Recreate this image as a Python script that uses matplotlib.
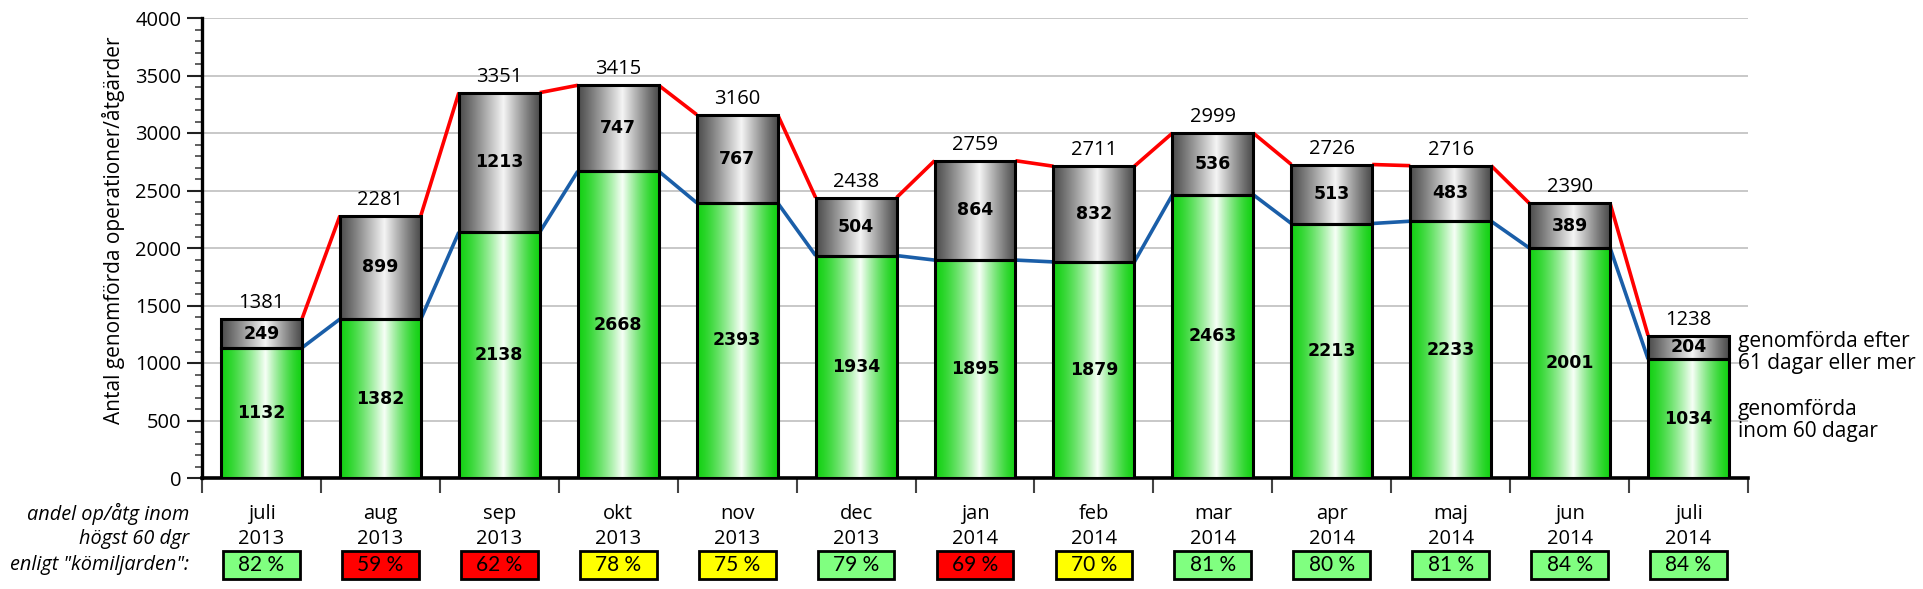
import numpy as np
import matplotlib
matplotlib.use("Agg")
import matplotlib.pyplot as plt
from matplotlib.patches import Rectangle
from matplotlib.transforms import blended_transform_factory
from matplotlib.ticker import MultipleLocator, FixedLocator, NullFormatter

months = ["juli", "aug", "sep", "okt", "nov", "dec", "jan", "feb", "mar", "apr", "maj", "jun", "juli"]
years = ["2013", "2013", "2013", "2013", "2013", "2013", "2014", "2014", "2014", "2014", "2014", "2014", "2014"]
within60 = [1132, 1382, 2138, 2668, 2393, 1934, 1895, 1879, 2463, 2213, 2233, 2001, 1034]
after61 = [249, 899, 1213, 747, 767, 504, 864, 832, 536, 513, 483, 389, 204]
totals = [1381, 2281, 3351, 3415, 3160, 2438, 2759, 2711, 2999, 2726, 2716, 2390, 1238]
share_pct = [82, 59, 62, 78, 75, 79, 69, 70, 81, 80, 81, 84, 84]
share_status = ["ok", "bad", "bad", "mid", "mid", "ok", "bad", "mid", "ok", "ok", "ok", "ok", "ok"]

status_colors = {"ok": "#80ff80", "bad": "#ff0000", "mid": "#ffff00"}
FONT = "Open Sans"
plt.rcParams["font.family"] = [FONT, "DejaVu Sans"]

W, H = 1923, 589
fig = plt.figure(figsize=(W / 100, H / 100), dpi=100)
ax_l, ax_r, ax_b, ax_t = 202, 1748, 478, 18
ax = fig.add_axes([ax_l / W, 1 - ax_b / H, (ax_r - ax_l) / W, (ax_b - ax_t) / H])

x = np.arange(len(months))
bw = 0.68


def gradient(edge, center, peak=0.55, n=256, power=1.1):
    t = np.linspace(0, 1, n)
    w = np.where(t < peak, t / peak, (1 - t) / (1 - peak))
    w = w ** power
    edge = np.array(edge)
    center = np.array(center)
    rgb = edge[None, :] + (center - edge)[None, :] * w[:, None]
    return rgb[None, :, :]


green_grad = gradient((0.08, 0.82, 0.08), (0.97, 1.0, 0.97), power=1.4)
gray_grad = gradient((0.30, 0.30, 0.30), (0.96, 0.96, 0.96))

b1 = ax.bar(x, within60, width=bw, facecolor="none", edgecolor="black", linewidth=2.2, zorder=4)
b2 = ax.bar(x, after61, bottom=within60, width=bw, facecolor="none", edgecolor="black", linewidth=2.2, zorder=4)

for bars, grad in ((b1, green_grad), (b2, gray_grad)):
    for p in bars:
        x0, y0 = p.get_x(), p.get_y()
        ax.imshow(grad, extent=[x0, x0 + p.get_width(), y0, y0 + p.get_height()],
                  aspect="auto", zorder=3, interpolation="bilinear")

# series lines
for i in range(len(x) - 1):
    ax.plot([x[i] + bw / 2, x[i + 1] - bw / 2], [totals[i], totals[i + 1]],
            color="#ff0000", lw=2.6, zorder=2, solid_capstyle="butt")
    ax.plot([x[i] + bw / 2, x[i + 1] - bw / 2], [within60[i], within60[i + 1]],
            color="#1a5ea8", lw=2.6, zorder=2, solid_capstyle="butt")

# value labels
for i in range(len(x)):
    ax.text(x[i], within60[i] / 2, str(within60[i]), ha="center", va="center",
            fontsize=12.5, fontweight="bold", family="DejaVu Sans", zorder=6)
    ax.text(x[i], within60[i] + after61[i] / 2, str(after61[i]), ha="center", va="center",
            fontsize=12.5, fontweight="bold", family="DejaVu Sans", zorder=6)
    ax.annotate(str(totals[i]), (x[i], totals[i]), xytext=(0, 11.5), textcoords="offset points",
                ha="center", va="center", fontsize=14.5, zorder=6)

ax.set_xlim(-0.5, len(x) - 0.5)
ax.set_ylim(0, 4000)
ax.yaxis.set_major_locator(MultipleLocator(500))
ax.yaxis.set_minor_locator(MultipleLocator(100))
ax.grid(axis="y", which="major", color="#c4c4c4", lw=1.3, zorder=0)
ax.set_axisbelow(True)
ax.tick_params(axis="y", which="major", length=11, width=1.5, labelsize=14.5, color="#222222", pad=4)
ax.tick_params(axis="y", which="minor", length=5, width=1.2, color="#444444")
ax.xaxis.set_major_locator(FixedLocator(np.arange(-0.5, len(x), 1.0)))
ax.xaxis.set_major_formatter(NullFormatter())
ax.tick_params(axis="x", which="major", length=11, width=1.5, color="#444444")
for s in ("top", "right"):
    ax.spines[s].set_visible(False)
ax.spines["left"].set_linewidth(2.4)
ax.spines["bottom"].set_linewidth(2.6)

fig.text(114 / W, 1 - 230 / H, "Antal genomförda operationer/åtgärder", rotation=90,
         ha="center", va="center", fontsize=15)

# bottom table
tr = blended_transform_factory(ax.transData, fig.transFigure)
row_month, row_year, row_box = 1 - 514 / H, 1 - 539 / H, 1 - 565 / H
for i in range(len(x)):
    ax.text(x[i], row_month, months[i], transform=tr, ha="center", va="center", fontsize=14.5)
    ax.text(x[i], row_year, years[i], transform=tr, ha="center", va="center", fontsize=14.5)
    bwid, bh = 0.645, 28 / H
    ax.add_patch(Rectangle((x[i] - bwid / 2, row_box - bh / 2), bwid, bh, transform=tr,
                           facecolor=status_colors[share_status[i]], edgecolor="black",
                           lw=2, clip_on=False, zorder=5))
    ax.text(x[i], row_box, f"{share_pct[i]} %", transform=tr, ha="center", va="center",
            fontsize=15, family="Lato", zorder=6)

for y, s in ((row_month, "andel op/åtg inom"), (row_year, "högst 60 dgr"),
             (row_box, 'enligt "kömiljarden":')):
    fig.text(189 / W, y, s, ha="right", va="center", fontsize=14.3, style="italic")

# right side legend labels
fig.text(1738 / W, 1 - 341 / H, "genomförda efter", ha="left", va="center", fontsize=15)
fig.text(1738 / W, 1 - 363 / H, "61 dagar eller mer", ha="left", va="center", fontsize=15)
fig.text(1738 / W, 1 - 410 / H, "genomförda", ha="left", va="center", fontsize=15)
fig.text(1738 / W, 1 - 432 / H, "inom 60 dagar", ha="left", va="center", fontsize=15)

fig.savefig("out.png", dpi=100)
